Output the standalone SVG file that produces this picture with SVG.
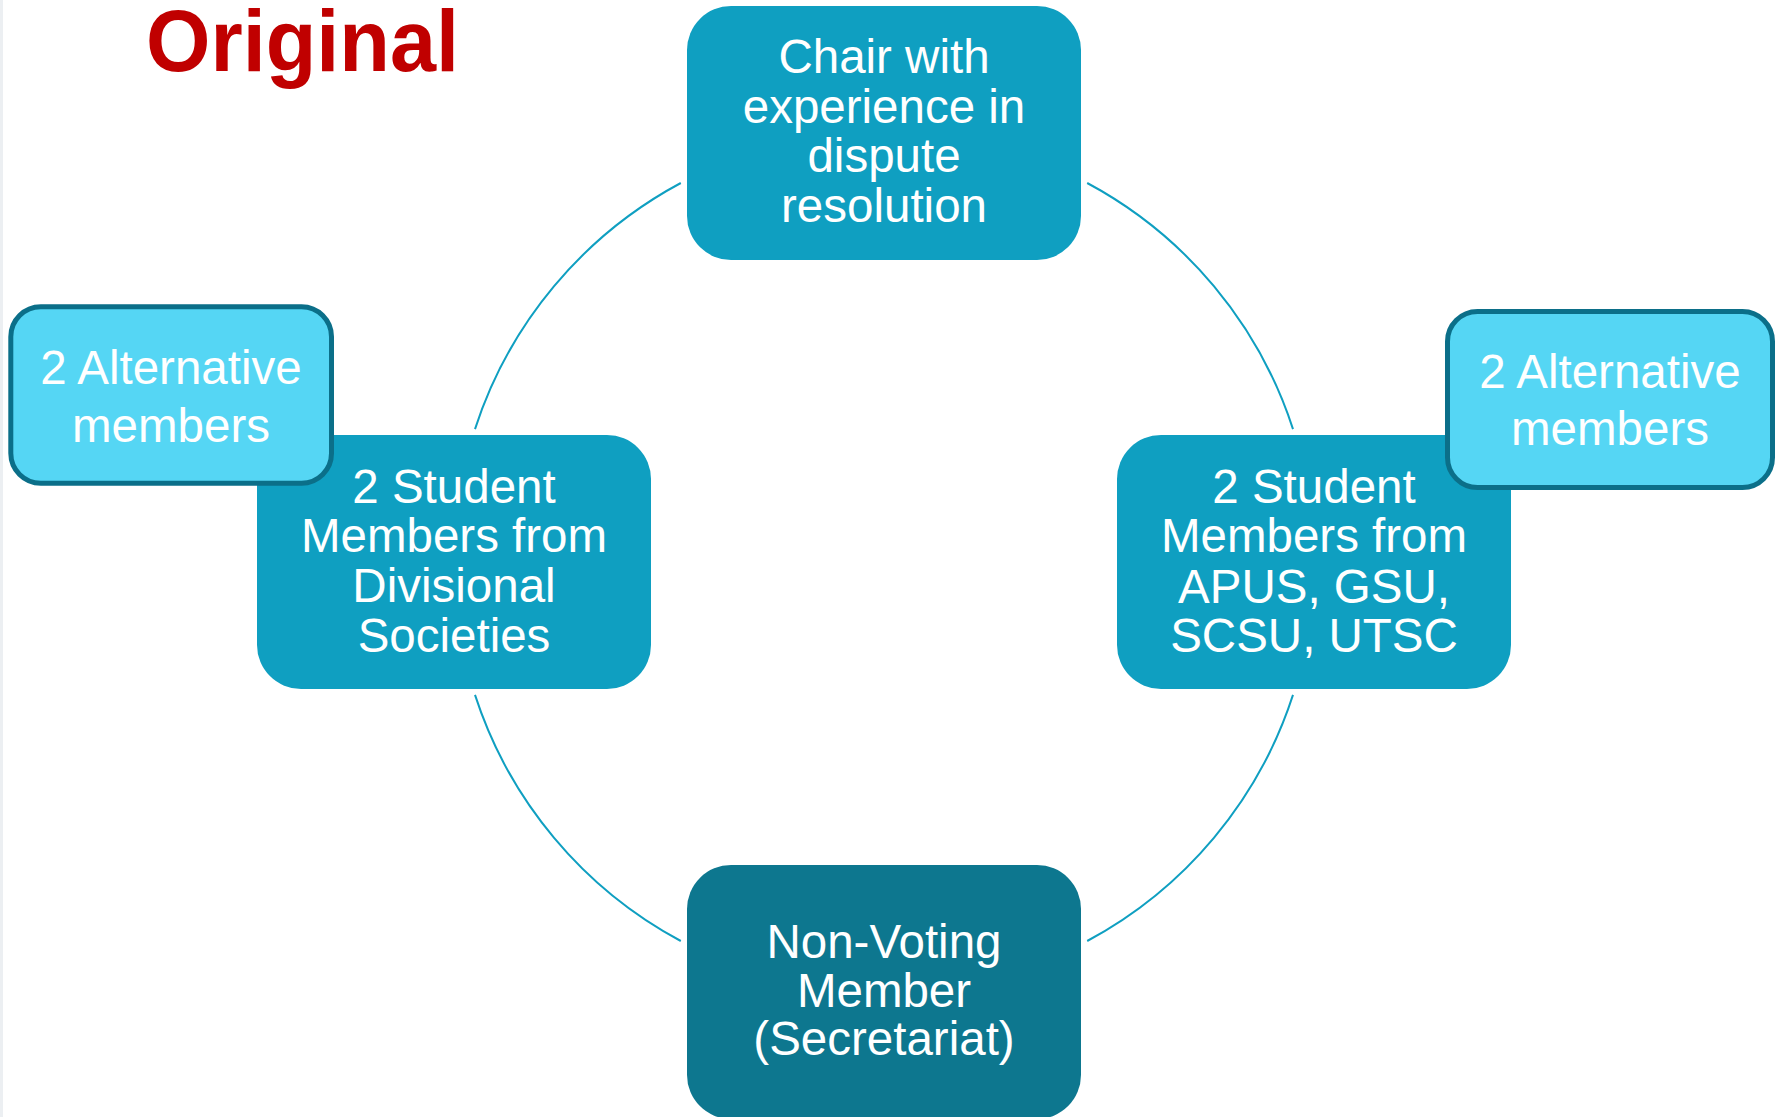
<svg xmlns="http://www.w3.org/2000/svg" width="1783" height="1117" viewBox="0 0 1783 1117">
<style>
  .box { fill: #0f9fc1; }
  .dark { fill: #0d778f; }
  .alt { fill: #55d6f4; stroke: #0b6f89; stroke-width: 5; }
  .lbl { font-family: "Liberation Sans", Arial, sans-serif; font-size: 47.5px; fill: #ffffff; text-anchor: middle; }
  .arc { fill: none; stroke: #0f9fc1; stroke-width: 2; }
  .title { font-family: "Liberation Sans", Arial, sans-serif; font-weight: bold; font-size: 87px; fill: #c00000; }
</style>
<rect x="0" y="0" width="1783" height="1117" fill="#ffffff"/>
<rect x="0" y="0" width="3" height="1117" fill="#eceff2"/>
<text class="title" x="146" y="71" textLength="313" lengthAdjust="spacingAndGlyphs">Original</text>
<g id="connectors">
  <path class="arc" d="M 1087.2 183 A 430 430 0 0 1 1293 429.1"/>
  <path class="arc" d="M 1293 694.9 A 430 430 0 0 1 1087.2 941"/>
  <path class="arc" d="M 680.8 941 A 430 430 0 0 1 475 694.9"/>
  <path class="arc" d="M 475 429.1 A 430 430 0 0 1 680.8 183"/>
</g>
<g id="node-chair">
  <rect class="box" x="687" y="6" width="394" height="254" rx="44" ry="44"/>
  <text class="lbl" x="884" y="73">Chair with</text>
  <text class="lbl" x="884" y="123">experience in</text>
  <text class="lbl" x="884" y="172">dispute</text>
  <text class="lbl" x="884" y="222">resolution</text>
</g>
<g id="node-student-left">
  <rect class="box" x="257" y="435" width="394" height="254" rx="44" ry="44"/>
  <text class="lbl" x="454" y="503">2 Student</text>
  <text class="lbl" x="454" y="552">Members from</text>
  <text class="lbl" x="454" y="602">Divisional</text>
  <text class="lbl" x="454" y="652">Societies</text>
</g>
<g id="node-student-right">
  <rect class="box" x="1117" y="435" width="394" height="254" rx="44" ry="44"/>
  <text class="lbl" x="1314" y="503">2 Student</text>
  <text class="lbl" x="1314" y="552">Members from</text>
  <text class="lbl" x="1314" y="603">APUS, GSU,</text>
  <text class="lbl" x="1314" y="652">SCSU, UTSC</text>
</g>
<g id="node-nonvoting">
  <rect class="dark" x="687" y="865" width="394" height="254" rx="44" ry="44"/>
  <text class="lbl" x="884" y="958">Non-Voting</text>
  <text class="lbl" x="884" y="1007">Member</text>
  <text class="lbl" x="884" y="1055">(Secretariat)</text>
</g>
<g id="node-alt-left">
  <rect class="alt" x="10.8" y="306.8" width="320.7" height="176.4" rx="30" ry="30"/>
  <text class="lbl" x="171" y="384">2 Alternative</text>
  <text class="lbl" x="171" y="442">members</text>
</g>
<g id="node-alt-right">
  <rect class="alt" x="1447.5" y="311.5" width="325" height="176" rx="30" ry="30"/>
  <text class="lbl" x="1610" y="388">2 Alternative</text>
  <text class="lbl" x="1610" y="445">members</text>
</g>
</svg>
